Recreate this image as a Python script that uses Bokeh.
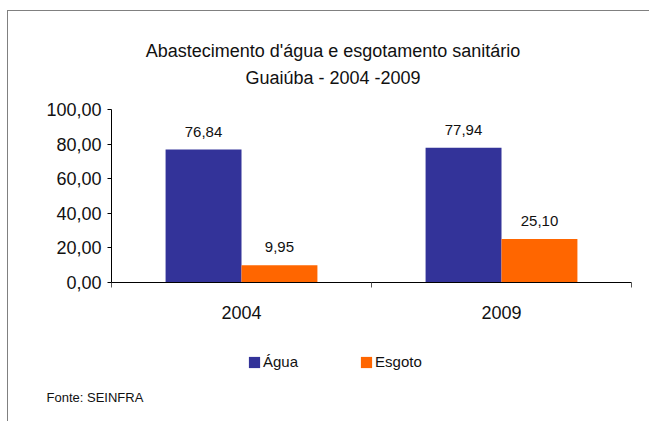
from bokeh.plotting import figure
from bokeh.layouts import column
from bokeh.models import Range1d, FixedTicker, Legend, LegendItem, Label, ColumnDataSource
from bokeh.transform import dodge
from bokeh.core.properties import value
from bokeh.embed import file_html
from bokeh.resources import INLINE

# ---- data ----
years = ["2004", "2009"]
agua = [76.84, 77.94]
esgoto = [9.95, 25.10]
y_ticks = [0, 20, 40, 60, 80, 100]
series_names = ["Água", "Esgoto"]
title_lines = ["Abastecimento d'água e esgotamento sanitário", "Guaiúba - 2004 -2009"]
source_note = "Fonte: SEINFRA"

def br(v):
    return f"{v:.2f}".replace(".", ",")

FONT = "Liberation Sans"
BLUE = "#333399"
ORANGE = "#FF6600"
TXT = "#111111"
W = 633

cx = [i + 0.5 for i in range(len(years))]
src = ColumnDataSource(dict(
    x=cx, agua=agua, esgoto=esgoto,
    agua_lbl=[br(v) for v in agua], esgoto_lbl=[br(v) for v in esgoto],
))

def blank(height):
    f = figure(width=W, height=height, output_backend="svg", toolbar_location=None, tools="",
               x_range=Range1d(0, 1), y_range=Range1d(0, 1),
               x_axis_type=None, y_axis_type=None, min_border=0)
    f.frame_align = False
    f.outline_line_color = None
    f.grid.visible = False
    f.title.visible = False
    f.background_fill_color = "white"
    f.border_fill_color = "white"
    return f

# ---------------- header: two-line title ----------------
HH = 87
h = blank(HH)
for txt, yy in zip(title_lines, [47.5, 21]):
    h.add_layout(Label(x=324.5, y=yy, x_units="screen", y_units="screen", text=txt,
                       text_align="center", text_baseline="alphabetic",
                       text_font=FONT, text_font_size="18px", text_color=TXT))

# ---------------- main chart ----------------
p = figure(width=W, height=243, output_backend="svg", toolbar_location=None, tools="",
           x_range=Range1d(0, len(years)), y_range=Range1d(0, 100),
           min_border_left=103, min_border_right=10, min_border_top=11, min_border_bottom=59)
p.frame_align = False
p.outline_line_color = None
p.grid.visible = False
p.background_fill_color = "white"
p.border_fill_color = "white"
p.title.visible = False

bw = 0.292
off = 0.146
r1 = p.vbar(x=dodge("x", -off, range=p.x_range), top="agua", width=bw, source=src,
            fill_color=BLUE, line_color=None)
r2 = p.vbar(x=dodge("x", off, range=p.x_range), top="esgoto", width=bw, source=src,
            fill_color=ORANGE, line_color=None)

for col, lbl, o in (("agua", "agua_lbl", -off), ("esgoto", "esgoto_lbl", off)):
    p.text(x=dodge("x", o, range=p.x_range), y=col, text=lbl, source=src,
           text_align="center", text_baseline="alphabetic", y_offset=-18,
           text_font=value(FONT), text_font_size="15px", text_color=TXT)

# y axis
ya = p.yaxis[0]
ya.ticker = FixedTicker(ticks=y_ticks)
ya.major_label_overrides = {t: br(t) for t in y_ticks}
ya.major_tick_out = 4
ya.major_tick_in = 0
ya.minor_tick_line_color = None
ya.major_label_standoff = 6
ya.major_label_text_font = FONT
ya.major_label_text_font_size = "18px"
ya.major_label_text_color = TXT
ya.axis_line_color = "#000000"
ya.major_tick_line_color = "#000000"

# x axis: labels at category centres, tick marks at category boundaries
xa = p.xaxis[0]
xa.ticker = FixedTicker(ticks=cx, minor_ticks=list(range(len(years) + 1)))
xa.major_label_overrides = {c: y for c, y in zip(cx, years)}
xa.major_tick_line_color = None
xa.major_tick_out = 0
xa.major_tick_in = 0
xa.minor_tick_out = 5
xa.minor_tick_in = 0
xa.minor_tick_line_color = "#555555"
xa.major_label_standoff = 18
xa.major_label_text_font = FONT
xa.major_label_text_font_size = "18px"
xa.major_label_text_color = TXT
xa.axis_line_color = "#000000"

# ---------------- footer: legend + source ----------------
HB = 75
f = blank(HB)
# hidden copies of the two series, used only to draw the legend swatches
k1 = f.vbar(x="x", top="agua", width=bw, source=src, fill_color=BLUE, line_color=None, visible=False)
k2 = f.vbar(x="x", top="esgoto", width=bw, source=src, fill_color=ORANGE, line_color=None, visible=False)

legend = Legend(items=[LegendItem(label=series_names[0], renderers=[k1]),
                       LegendItem(label=series_names[1], renderers=[k2])],
                orientation="horizontal", location=(239, 46),
                glyph_width=14, glyph_height=14, label_height=14, label_standoff=2,
                spacing=61, padding=0, margin=0,
                border_line_color=None, background_fill_alpha=0,
                inactive_fill_alpha=0,
                label_text_font=FONT, label_text_font_size="15px",
                label_text_color=TXT)
f.add_layout(legend, "center")

f.add_layout(Label(x=38, y=19, x_units="screen", y_units="screen", text=source_note,
                   text_align="left", text_baseline="alphabetic",
                   text_font=FONT, text_font_size="13px", text_color=TXT))

lay = column(h, p, f, spacing=0)
lay.styles = {"border-top": "1px solid #808080", "border-left": "1px solid #808080",
              "margin-left": "7px", "margin-top": "10px",
              "padding-right": "8px", "padding-bottom": "5px"}

open("out.html", "w").write(file_html(lay, INLINE))
